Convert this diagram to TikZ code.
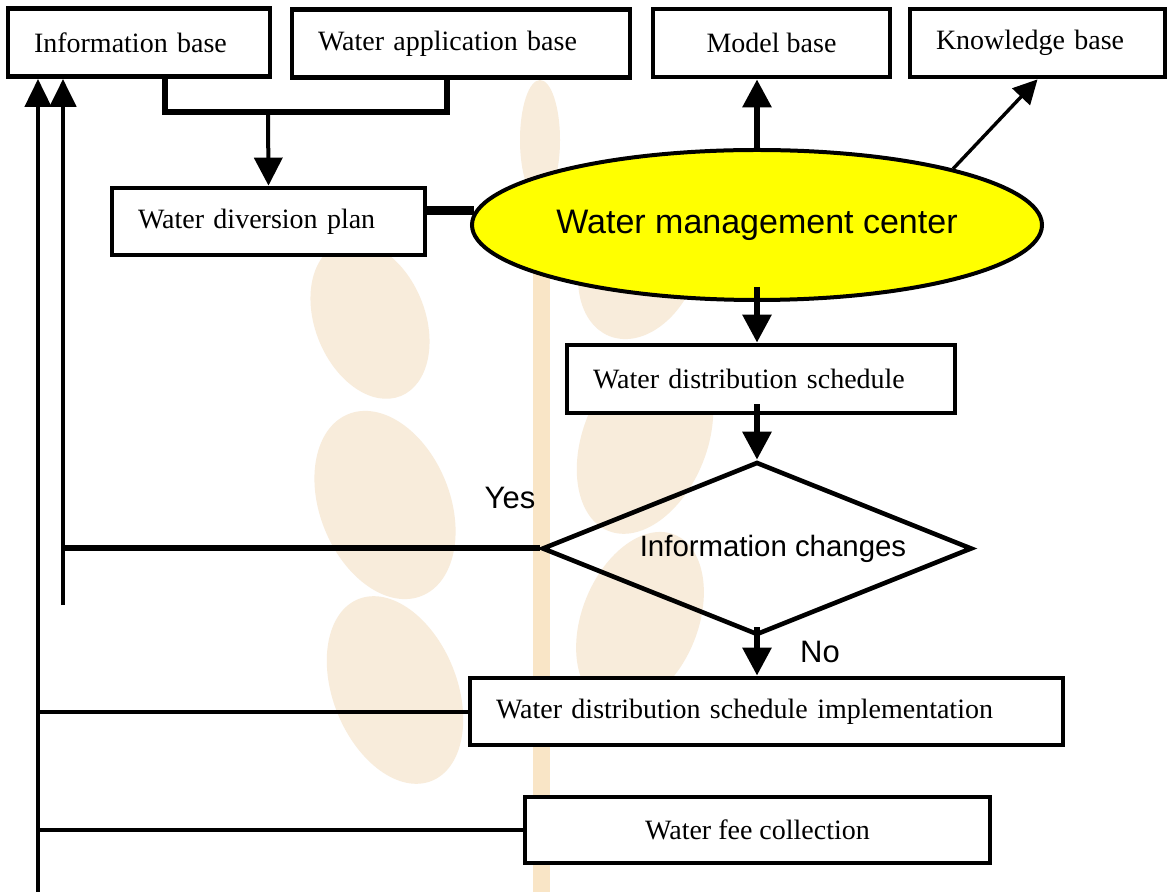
\documentclass[tikz,border=0pt]{standalone}
\usepackage{fontspec}
\setmainfont{Liberation Serif}
\newfontfamily\sansf{Liberation Sans}
\usetikzlibrary{arrows.meta,shapes.geometric,calc}

\definecolor{wheat}{RGB}{248,236,219}
\definecolor{stem}{RGB}{249,229,198}
\definecolor{centrefill}{RGB}{255,255,0}

\begin{document}
\begin{tikzpicture}[x=0.5pt,y=-0.5pt,
  boxtxt/.style={font=\fontsize{14}{16}\selectfont},
  lbox/.style={draw, line width=2.4pt, fill=white, rectangle, boxtxt,
    inner xsep=13pt, inner ysep=0pt, text width=#1, align=left, minimum height=34pt},
  cbox/.style={draw, line width=2.4pt, fill=white, rectangle, boxtxt,
    inner sep=0pt, minimum width=#1, minimum height=34pt},
  sanslbl/.style={font=\sansf\fontsize{15.5}{18}\selectfont, inner sep=0pt},
  tipbig/.style={-{Triangle[width=14pt,length=14pt]}},
  tipup/.style={-{Triangle[width=13pt,length=14pt]}},
]
% page
\fill[white] (0,0) rectangle (1172,892);
\useasboundingbox (0,0) rectangle (1172,892);

% faint wheat-ear background
\fill[stem] (533,88) rectangle (550,892);
\fill[wheat] (540,140) ellipse [x radius=20, y radius=60];
\fill[wheat, rotate around={22:(370,320)}] (370,320) ellipse [x radius=55, y radius=82];
\fill[wheat, rotate around={22:(385,505)}] (385,505) ellipse [x radius=65, y radius=98];
\fill[wheat, rotate around={22:(395,690)}] (395,690) ellipse [x radius=62, y radius=98];
\fill[wheat, rotate around={-22:(640,260)}] (640,260) ellipse [x radius=58, y radius=82];
\fill[wheat, rotate around={-22:(645,440)}] (645,440) ellipse [x radius=62, y radius=98];
\fill[wheat, rotate around={-22:(640,620)}] (640,620) ellipse [x radius=58, y radius=92];

% top row of bases
\node[lbox=105pt] (ib) at (139,42.5) {Information base};
\node[lbox=143pt] (wab) at (461,43.5) {Water application base};
\node[cbox=118.5pt] (mb) at (771.5,43) {Model base};
\node[lbox=101.5pt] (kb) at (1037.5,43) {Knowledge base};

% plan, centre and schedules
\node[lbox=130.5pt, minimum height=33.5pt] (wdp) at (268.5,221.5) {Water diversion plan};
\node[ellipse, draw, line width=2pt, fill=centrefill, minimum width=285pt, minimum height=75pt,
  inner sep=0pt, font=\sansf\fontsize{17}{20}\selectfont] (ell) at (757,225) {Water management center};
\node[lbox=168pt] (wds) at (761,379) {Water distribution schedule};
\node[diamond, draw, line width=2.3pt, minimum width=215pt, minimum height=86.5pt, aspect=2.5,
  inner sep=0pt, font=\sansf\fontsize{14.7}{17}\selectfont] (dia) at (757,548.5)
  {\hspace*{16pt}Information changes};
\node[lbox=270.5pt, minimum height=33.5pt] (wdsi) at (766.5,711.5) {Water distribution schedule implementation};
\node[cbox=232.5pt, minimum height=33pt] (wfc) at (757.5,830) {Water fee collection};

\node[sanslbl] (yes) at (510,498) {Yes};
\node[sanslbl] (no) at (820,652) {No};

% merging the two bases into the diversion plan
\coordinate (ja) at (165,112);
\coordinate (jb) at (447,112);
\coordinate (jn) at (268,112);
\draw[line width=2.8pt] (ja |- ib.south) -- (ja) -- (jb) -- (jb |- wab.south);
\draw[line width=2pt, tipbig] (jn) -- (wdp.north);

% plan to centre
\coordinate (dv) at (0,211);
\draw[line width=4.5pt] (wdp.east |- dv) -- ($(ell.west)+(4,-14)$);

% centre to model and knowledge bases
\draw[line width=3pt, tipbig] (ell.north) -- (ell.north |- mb.south);
\draw[line width=1.7pt, -{Triangle[width=12pt,length=12pt]}] (ell.16) -- (kb.south);

% main chain
\draw[line width=3pt, tipbig] ($(ell.south)+(0,-15)$) -- (ell.south |- wds.north);
\draw[line width=3pt, tipbig] ($(wds.south -| dia.north)+(0,-11)$) -- (dia.north);
\draw[line width=3pt, tipbig] ($(dia.south)+(0,-10)$) -- (dia.south |- wdsi.north);

% feedback lines to the information base
\coordinate (yb) at (63,605);
\coordinate (ob) at (38,892);
\draw[line width=2.4pt, tipup] (yb) -- (yb |- ib.south);
\draw[line width=3pt] (dia.west) -- (dia.west -| yb);
\draw[line width=2.2pt, tipup] (ob) -- (ob |- ib.south);
\draw[line width=2pt] (wdsi.west) -- (wdsi.west -| ob);
\draw[line width=2pt] (wfc.west) -- (wfc.west -| ob);
\end{tikzpicture}
\end{document}
